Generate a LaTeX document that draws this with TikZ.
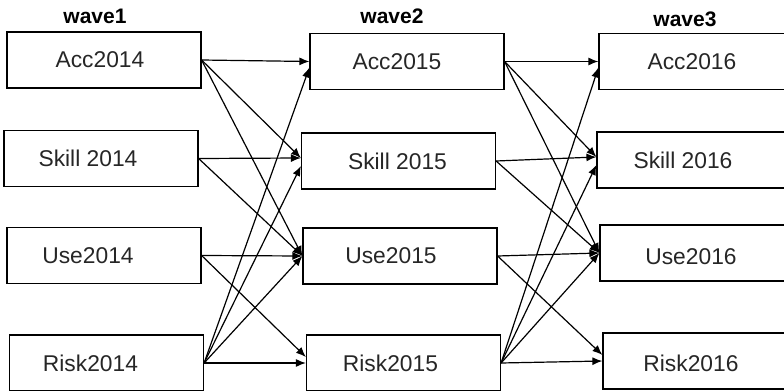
\documentclass[tikz,border=0pt]{standalone}
\usepackage{fontspec}
\setmainfont{Liberation Sans}
\usetikzlibrary{arrows.meta}

\begin{document}
\begin{tikzpicture}[x=0.5pt,y=-0.5pt,line width=0.6pt,>={Latex[length=5pt,width=4pt]},
  font=\fontsize{11.4}{13}\selectfont,
  box/.style={draw,minimum width=97pt,minimum height=28pt,inner sep=0pt},
  every label/.style={text=black!85},
  wave/.style={font=\bfseries\fontsize{10.5}{12}\selectfont}]
  \useasboundingbox (0,0) rectangle (784,391);
  % wave titles
  \node[wave] (w1) at (95,16) {wave1};
  \node[wave] (w2) at (392,16) {wave2};
  \node[wave] (w3) at (685,19) {wave3};
  % wave1
  \node[box,label={[xshift=-2pt]center:Acc2014}] (acc1) at (104,60) {};
  \node[box,label={[xshift=-6.5pt]center:Skill 2014}] (skill1) at (101,158.5) {};
  \node[box,label={[xshift=-8pt]center:Use2014}] (use1) at (104,255.5) {};
  \node[box,label={[xshift=-8pt]center:Risk2014}] (risk1) at (106.5,363) {};
  % wave2
  \node[box,label={[xshift=-5pt]center:Acc2015}] (acc2) at (407,61.5) {};
  \node[box,label={[xshift=-0.5pt]center:Skill 2015}] (skill2) at (398.5,161) {};
  \node[box,label={[xshift=-4.5pt]center:Use2015}] (use2) at (400,256) {};
  \node[box,label={[xshift=-6.5pt]center:Risk2015}] (risk2) at (403.5,363) {};
  % wave3
  \node[box,label={[xshift=-2pt]center:Acc2016}] (acc3) at (696,61.5) {};
  \node[box,label={[xshift=-5.5pt]center:Skill 2016}] (skill3) at (694,160) {};
  \node[box,label={[xshift=-3pt,yshift=-2pt]center:Use2016}] (use3) at (697,253) {};
  \node[box,label={[xshift=-4.5pt,yshift=-1pt]center:Risk2016}] (risk3) at (700,361) {};
  % paths between waves
  \foreach \i/\j in {1/2,2/3} {
    \foreach \a/\b/\s in {acc/acc/0,acc/skill/1.5,acc/use/0,skill/skill/1.5,skill/use/0,
        use/use/0,use/risk/3,risk/acc/-3,risk/skill/-2.5,risk/use/0,risk/risk/0}
      \draw[->] (\a\i.east) -- ([yshift=\s pt]\b\j.west);
  }
\end{tikzpicture}
\end{document}
